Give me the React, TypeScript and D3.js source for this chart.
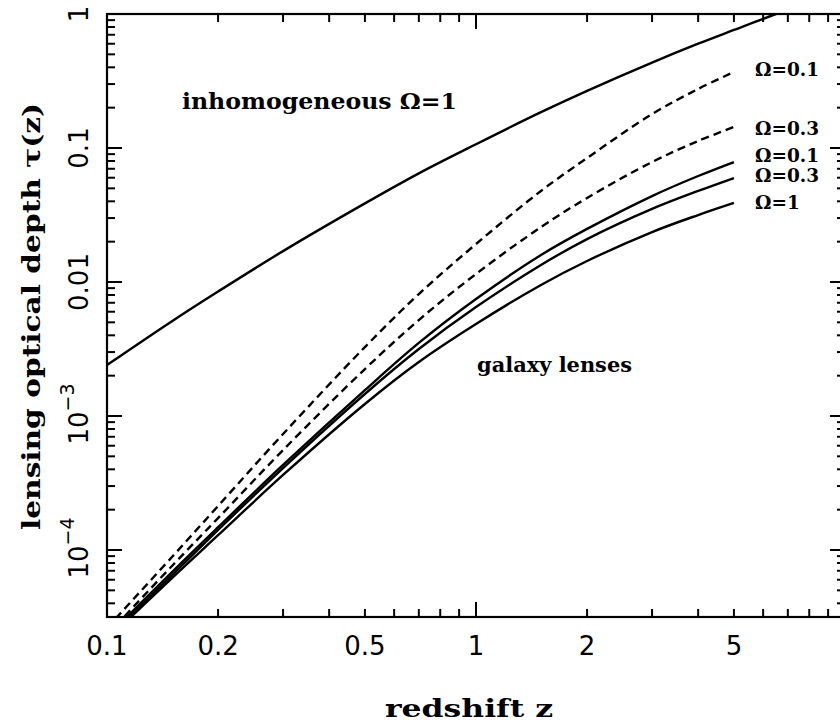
import React from 'react';
import * as d3 from 'd3';

// redshift grid for galaxy-lens curves
const zGrid = [0.1, 0.15, 0.2, 0.3, 0.5, 0.7, 1, 1.5, 2, 3, 4, 5];
// inhomogeneous Omega=1 curve
const zInhom = [0.1, 0.15, 0.2, 0.3, 0.5, 0.7, 1, 1.5, 2, 3, 4, 5, 6.5, 7.5];
const tauInhom = [2.4e-3, 5.1e-3, 8.49e-3, 0.017, 0.0386, 0.0647, 0.1067, 0.185, 0.267, 0.434, 0.6, 0.76, 1.0, 1.15];
// galaxy lenses, dashed (Omega=0.1, 0.3)
const tauDash01 = [2.62e-5, 8.87e-5, 2.13e-4, 7.34e-4, 3.27e-3, 8.13e-3, 0.0192, 0.0478, 0.0842, 0.179, 0.276, 0.369];
const tauDash03 = [2.32e-5, 7.6e-5, 1.73e-4, 5.57e-4, 2.24e-3, 5.2e-3, 0.01148, 0.0257, 0.0424, 0.0786, 0.1128, 0.1435];
// galaxy lenses, solid (Omega=0.1, 0.3, 1)
const tauSolid01 = [2.24e-5, 6.85e-5, 1.48e-4, 4.31e-4, 1.56e-3, 3.51e-3, 7.46e-3, 0.0159, 0.0249, 0.0438, 0.0618, 0.0786];
const tauSolid03 = [2.17e-5, 6.5e-5, 1.41e-4, 4.09e-4, 1.46e-3, 3.16e-3, 6.5e-3, 0.0134, 0.0209, 0.0351, 0.0478, 0.0597];
const tauSolid1 = [2.13e-5, 6.18e-5, 1.29e-4, 3.63e-4, 1.23e-3, 2.53e-3, 4.86e-3, 9.5e-3, 0.01435, 0.0236, 0.0316, 0.0389];

const xTickLabels = [0.1, 0.2, 0.5, 1, 2, 5];
const yTickValues = [1, 0.1, 0.01, 1e-3, 1e-4];
const yTickTexts = ['1', '0.1', '0.01', '10', '10'];
const yTickSups = ['', '', '', '−3', '−4'];

const curveLabels = ['Ω=0.1', 'Ω=0.3', 'Ω=0.1', 'Ω=0.3', 'Ω=1'];
const curveLabelY = [76, 135, 162, 182, 209];

const W = 840;
const H = 722;
const L = 107, R = 845, T = 14, B = 617;

export default function App() {
  const x = d3.scaleLog().domain([0.1, 10]).range([L, R]);
  const y = d3.scaleLog().domain([Math.pow(10, -4.5), 1]).range([B, T]);

  const line = d3
    .line<[number, number]>()
    .x((d) => x(d[0]))
    .y((d) => y(d[1]))
    .curve(d3.curveCatmullRom.alpha(0.5));

  const mk = (zs: number[], ts: number[]) => line(zs.map((z, i) => [z, ts[i]] as [number, number])) || '';

  const galaxy = [
    { v: tauDash01, dash: true },
    { v: tauDash03, dash: true },
    { v: tauSolid01, dash: false },
    { v: tauSolid03, dash: false },
    { v: tauSolid1, dash: false },
  ];

  // ticks
  const xMinor: number[] = [];
  for (const dec of [0.1, 1]) for (let k = 2; k <= 9; k++) xMinor.push(dec * k);
  const xMajor = [0.1, 1, 10];
  const yMinor: number[] = [];
  const yMajor: number[] = [];
  const yMin = Math.pow(10, -4.5);
  for (let e = -5; e <= 0; e++) {
    const dec = Math.pow(10, e);
    if (dec >= yMin && dec <= 1) yMajor.push(dec);
    for (let k = 2; k <= 9; k++) {
      const v = dec * k;
      if (v >= yMin && v < 1) yMinor.push(v);
    }
  }
  const minorLen = 8;
  const majorLen = 15;
  const tickStyle = { stroke: '#000', strokeWidth: 2 };

  const serif = "'DejaVu Serif', serif";
  const sans = "'DejaVu Sans', sans-serif";

  return (
    <svg width={W} height={H} style={{ position: 'absolute', left: 0, top: 0, background: '#fff' }}>
      <defs>
        <clipPath id="plot">
          <rect x={L} y={T} width={R - L} height={B - T} />
        </clipPath>
      </defs>
      <rect x={0} y={0} width={W} height={H} fill="#fff" />

      {/* curves */}
      <g clipPath="url(#plot)" fill="none" stroke="#000">
        <path d={mk(zInhom, tauInhom)} strokeWidth={2.4} />
        {galaxy.map((g, i) => (
          <path key={i} d={mk(zGrid, g.v)} strokeWidth={2.4} strokeDasharray={g.dash ? '8,5' : undefined} />
        ))}
      </g>

      {/* frame */}
      <rect x={L} y={T} width={R - L} height={B - T} fill="none" stroke="#000" strokeWidth={2.2} />

      {/* x ticks bottom & top */}
      {xMinor.map((v, i) => (
        <g key={'xm' + i}>
          <line x1={x(v)} x2={x(v)} y1={B} y2={B - minorLen} {...tickStyle} />
          <line x1={x(v)} x2={x(v)} y1={T} y2={T + minorLen} {...tickStyle} />
        </g>
      ))}
      {xMajor.map((v, i) => (
        <g key={'xM' + i}>
          <line x1={x(v)} x2={x(v)} y1={B} y2={B - majorLen} {...tickStyle} />
          <line x1={x(v)} x2={x(v)} y1={T} y2={T + majorLen} {...tickStyle} />
        </g>
      ))}
      {/* y ticks left & right */}
      {yMinor.map((v, i) => (
        <g key={'ym' + i}>
          <line x1={L} x2={L + minorLen} y1={y(v)} y2={y(v)} {...tickStyle} />
          <line x1={R} x2={R - minorLen} y1={y(v)} y2={y(v)} {...tickStyle} />
        </g>
      ))}
      {yMajor.map((v, i) => (
        <g key={'yM' + i}>
          <line x1={L} x2={L + majorLen} y1={y(v)} y2={y(v)} {...tickStyle} />
          <line x1={R} x2={R - majorLen} y1={y(v)} y2={y(v)} {...tickStyle} />
        </g>
      ))}

      {/* x tick labels */}
      {xTickLabels.map((v, i) => (
        <text key={'xl' + i} x={x(v)} y={655} textAnchor="middle" fontFamily={sans} fontSize={26} fill="#000">
          {String(v)}
        </text>
      ))}

      {/* y tick labels (rotated) */}
      {yTickValues.map((v, i) => (
        <text
          key={'yl' + i}
          transform={`translate(88, ${y(v) + (yTickSups[i] ? -2 : 0)}) rotate(-90)`}
          textAnchor="middle"
          fontFamily={sans}
          fontSize={26}
          fill="#000"
        >
          {yTickTexts[i]}
          {yTickSups[i] ? (
            <tspan dy={-14} fontSize={19}>
              {yTickSups[i]}
            </tspan>
          ) : null}
        </text>
      ))}

      {/* axis titles */}
      <text x={385} y={717} fontFamily={serif} fontWeight="bold" fontSize={25} textLength={168} lengthAdjust="spacingAndGlyphs" fill="#000">
        redshift z
      </text>
      <text
        transform={`translate(40, ${530}) rotate(-90)`}
        fontFamily={serif}
        fontWeight="bold"
        fontSize={25}
        textLength={427}
        lengthAdjust="spacingAndGlyphs"
        fill="#000"
      >
        lensing optical depth τ(z)
      </text>

      {/* annotations */}
      <text x={182} y={109} fontFamily={serif} fontWeight="bold" fontSize={23} textLength={275} lengthAdjust="spacingAndGlyphs" fill="#000">
        inhomogeneous Ω=1
      </text>
      <text x={477} y={372} fontFamily={serif} fontWeight="bold" fontSize={21} textLength={155} lengthAdjust="spacingAndGlyphs" fill="#000">
        galaxy lenses
      </text>
      {curveLabels.map((s, i) => (
        <text key={'cl' + i} x={755} y={curveLabelY[i]} fontFamily={serif} fontWeight="bold" fontSize={18.5} fill="#000">
          {s}
        </text>
      ))}
    </svg>
  );
}
